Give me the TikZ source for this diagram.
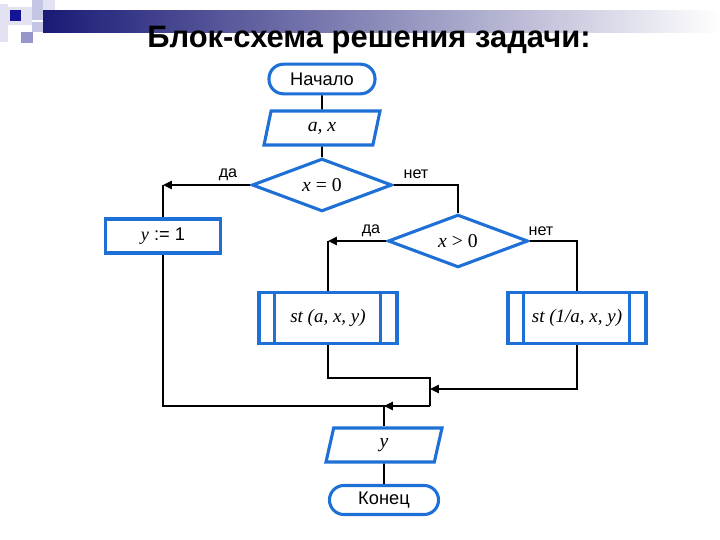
\documentclass[tikz,border=0pt]{standalone}
\usepackage{fontspec}
\setmainfont{Liberation Sans}
\newfontfamily\tnr{Liberation Serif}
\usetikzlibrary{shapes.geometric,arrows.meta}
\definecolor{flowblue}{RGB}{30,112,214}
\definecolor{navy}{RGB}{26,26,118}
\definecolor{navydot}{RGB}{20,20,150}
\definecolor{lavA}{RGB}{226,226,242}
\definecolor{lavB}{RGB}{196,196,228}
\definecolor{lavC}{RGB}{150,150,204}

\begin{document}
\begin{tikzpicture}[x=0.25mm,y=-0.25mm,
  blk/.style={draw=flowblue,line width=2.2pt,fill=white,inner sep=0pt},
  term/.style={blk,rectangle,rounded corners=3.6mm,minimum width=26.5mm,minimum height=7.4mm,font=\fontsize{13}{15}\selectfont},
  io/.style={blk,trapezium,trapezium left angle=60,trapezium right angle=120,trapezium stretches body,minimum width=29mm,minimum height=8.5mm,font=\tnr\itshape\fontsize{14}{16}\selectfont},
  cond/.style={blk,diamond,minimum width=35mm,minimum height=11.6mm,font=\tnr\fontsize{14}{16}\selectfont},
  proc/.style={blk,rectangle,minimum width=28.75mm,minimum height=8.5mm,font=\fontsize{13}{15}\selectfont},
  subproc/.style={blk,rectangle,minimum width=34.5mm,minimum height=12.75mm,font=\tnr\itshape\fontsize{13.5}{16}\selectfont},
  bluerule/.style={draw=flowblue,line width=2.2pt},
  wire/.style={line width=1.4pt},
  arr/.style={wire,-{Triangle[length=2.2mm,width=2mm]}},
  lbl/.style={font=\fontsize{11.5}{13}\selectfont}]
\useasboundingbox[fill=white] (0,0) rectangle (720,540);
\fill[lavA] (0,4) rectangle (8,42);
\fill[lavA] (8,7) rectangle (32,25);
\fill[navydot] (10,10) rectangle (21,21);
\fill[lavB] (32,0) rectangle (43,20);
\fill[lavA] (43,0) rectangle (55,10);
\fill[lavB] (32,22) rectangle (43,32);
\fill[lavC] (21,32) rectangle (33,43);
\shade[left color=navy,right color=white] (43,10) rectangle (720,32);
\node[font=\bfseries\fontsize{22}{26}\selectfont,anchor=base] (title) at (369,47) {Блок-схема решения задачи:};

\node[term] (start) at (322,79) {Начало};
\node[io] (inax) at (322,128) {a, x};
\node[cond] (x0) at (322,185) {\textit{x} = 0};
\node[proc] (y1) at (163,236) {{\tnr\itshape y} := 1};
\node[cond] (xp) at (458,241) {\textit{x} > 0};
\node[subproc] (sta) at (328,318) {st (a, x, y)};
\node[subproc] (stb) at (577,318) {st (1/a, x, y)};
\node[io] (outy) at (384,445) {y};
\node[term,minimum width=27.25mm,minimum height=7.25mm] (fin) at (384,500) {Конец};
\foreach \n in {sta,stb}{
  \draw[bluerule] ([xshift=4.25mm]\n.north west) -- ([xshift=4.25mm]\n.south west);
  \draw[bluerule] ([xshift=-4.5mm]\n.north east) -- ([xshift=-4.5mm]\n.south east);
}

\coordinate (ja) at (430,378);
\coordinate (jb) at (430,389);
\coordinate (jn) at (430,406);
\draw[wire] (start) -- (inax);
\draw[wire] (inax) -- (x0);
\draw[arr] (x0.west) -- (x0.west -| y1.north);
\draw[wire] (x0.west -| y1.north) -- (y1.north);
\draw[wire] (x0.east) -| (xp.north);
\draw[arr] (xp.west) -- (xp.west -| sta.north);
\draw[wire] (xp.west -| sta.north) -- (sta.north);
\draw[wire] (xp.east) -| (stb.north);
\draw[wire] (sta.south) |- (ja) -- (jn);
\draw[arr] (stb.south) |- (jb);
\draw[wire] (y1.south) |- (jn);
\draw[arr] (jn) -- (jn -| outy.north);
\draw[wire] (jn -| outy.north) -- (outy.north);
\draw[wire] (outy.south) -- (fin.north);
\node[lbl] (da1) at (228,175) {да};
\node[lbl] (net1) at (416,174) {нет};
\node[lbl] (da2) at (371,231) {да};
\node[lbl] (net2) at (541,231) {нет};
\end{tikzpicture}
\end{document}
